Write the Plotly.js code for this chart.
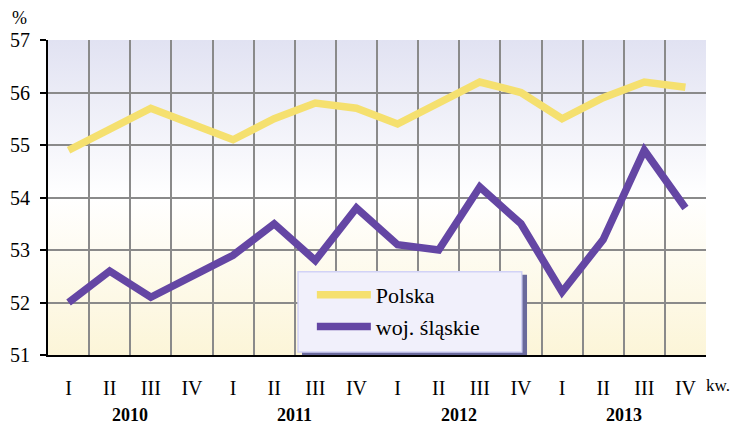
<!DOCTYPE html>
<html>
<head>
<meta charset="utf-8">
<script src="https://cdn.plot.ly/plotly-3.0.1.min.js"></script>
<style>html,body{margin:0;padding:0;background:#fff;}#chart{width:733px;height:425px;}</style>
</head>
<body>
<div id="chart"></div>
<script>
const years = ['2010', '2011', '2012', '2013'];
const quarters = ['I', 'II', 'III', 'IV'];
const polska = [54.9, 55.3, 55.7, 55.4, 55.1, 55.5, 55.8, 55.7, 55.4, 55.8, 56.2, 56.0, 55.5, 55.9, 56.2, 56.1];
const slaskie = [52.0, 52.6, 52.1, 52.5, 52.9, 53.5, 52.8, 53.8, 53.1, 53.0, 54.2, 53.5, 52.2, 53.2, 54.9, 53.8];
const seriesNames = ['Polska', 'woj. śląskie'];

const n = years.length * quarters.length;
const xIdx = Array.from({length: n}, (_, i) => i);
const tickText = [];
years.forEach(() => quarters.forEach(q => tickText.push(q)));
const boundaries = Array.from({length: n}, (_, i) => i + 0.5);

const FONT = '"Liberation Serif", "Times New Roman", serif';

const grad = "<svg xmlns='http://www.w3.org/2000/svg' width='10' height='100' preserveAspectRatio='none'><defs><linearGradient id='g' x1='0' y1='0' x2='0' y2='1'><stop offset='0' stop-color='#e1e2f2'/><stop offset='0.5' stop-color='#ffffff'/><stop offset='1' stop-color='#fcf5d8'/></linearGradient></defs><rect width='10' height='100' fill='url(#g)'/></svg>";

const traces = [
  {x: xIdx, y: polska, name: seriesNames[0], type: 'scatter', mode: 'lines',
   line: {color: '#f5e06f', width: 7.5}},
  {x: xIdx, y: slaskie, name: seriesNames[1], type: 'scatter', mode: 'lines',
   line: {color: '#6446a4', width: 7.5}}
];

const annotations = years.map((y, k) => ({
  text: '<b>' + y + '</b>', x: k * quarters.length + (quarters.length - 1) / 2, xref: 'x',
  y: -0.19, yref: 'paper', showarrow: false, xanchor: 'center', yanchor: 'middle',
  font: {family: FONT, size: 18, color: '#000'}
}));
annotations.push({text: 'kw.', x: 1.018, xref: 'paper', y: -0.097, yref: 'paper',
  showarrow: false, xanchor: 'center', yanchor: 'middle', font: {family: FONT, size: 17, color: '#000'}});
annotations.push({text: '%', x: -0.043, xref: 'paper', y: 1.07, yref: 'paper',
  showarrow: false, xanchor: 'center', yanchor: 'middle', font: {family: FONT, size: 18, color: '#000'}});

// legend frame (box + shadow) in paper coordinates
const shapes = [
  {type: 'rect', xref: 'paper', yref: 'paper', x0: 0.386, x1: 0.728, y0: 0.0, y1: 0.255,
   fillcolor: '#6a6a9c', line: {width: 0}, layer: 'above'},
  {type: 'rect', xref: 'paper', yref: 'paper', x0: 0.380, x1: 0.720, y0: 0.0095, y1: 0.264,
   fillcolor: '#f1f0fb', line: {color: '#d2d2f6', width: 1.5}, layer: 'above'}
];

const layout = {
  width: 733, height: 425,
  margin: {l: 48, r: 27, t: 40, b: 70},
  paper_bgcolor: '#ffffff',
  plot_bgcolor: 'rgba(0,0,0,0)',
  font: {family: FONT, color: '#000'},
  showlegend: true,
  legend: {x: 0.401, y: 0.257, xanchor: 'left', yanchor: 'top',
    bgcolor: 'rgba(0,0,0,0)', borderwidth: 0,
    font: {family: FONT, size: 22, color: '#000'}, itemwidth: 54},
  xaxis: {range: [-0.5, n - 0.5], tickmode: 'array', tickvals: xIdx, ticktext: tickText,
    showgrid: false, zeroline: false, showline: true, linecolor: '#000', linewidth: 2,
    ticks: '', ticklabelstandoff: 14, tickfont: {family: FONT, size: 20, color: '#000'},
    minor: {tickmode: 'array', tickvals: boundaries, showgrid: true, gridcolor: '#8a8a8a', gridwidth: 2, ticks: ''},
    fixedrange: true},
  yaxis: {range: [51, 57], dtick: 1, tick0: 51, showgrid: true, gridcolor: '#8a8a8a', gridwidth: 2,
    zeroline: false, showline: true, linecolor: '#000', linewidth: 2,
    ticks: 'outside', ticklen: 6, tickcolor: '#000', tickwidth: 2, ticklabelstandoff: 6,
    tickfont: {family: FONT, size: 20, color: '#000'}, fixedrange: true},
  images: [{source: 'data:image/svg+xml;charset=utf-8,' + encodeURIComponent(grad),
    xref: 'paper', yref: 'paper', x: 0, y: 1, sizex: 1, sizey: 1,
    sizing: 'stretch', xanchor: 'left', yanchor: 'top', layer: 'below'}],
  shapes: shapes,
  annotations: annotations
};

Plotly.newPlot('chart', traces, layout, {displayModeBar: false, staticPlot: true});
</script>
</body>
</html>
